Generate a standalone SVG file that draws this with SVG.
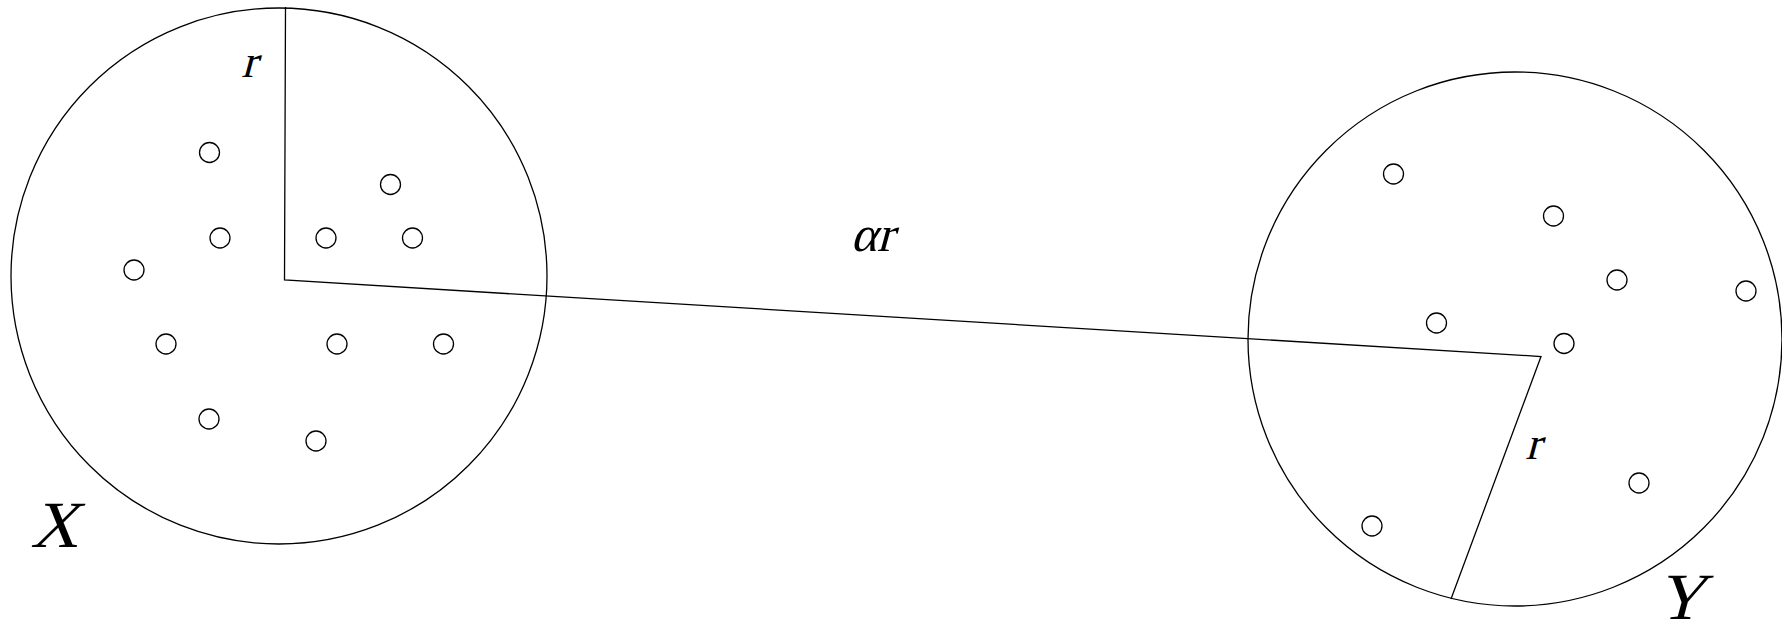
<svg xmlns="http://www.w3.org/2000/svg" width="1782" height="624" viewBox="0 0 1782 624">
<style>
.big{fill:none;stroke:#000;stroke-width:1.3}
.pt{fill:none;stroke:#000;stroke-width:1.3}
.ln{fill:none;stroke:#000;stroke-width:1.3}
.lbl{fill:#000;font-family:"Liberation Serif","DejaVu Serif",serif;font-style:normal}
</style>
<rect width="1782" height="624" fill="#fff"/>
<g id="setX">
<circle class="big" cx="279" cy="276" r="268"/>
<circle class="pt" cx="209.5" cy="152.5" r="10"/>
<circle class="pt" cx="390.5" cy="184.5" r="10"/>
<circle class="pt" cx="220" cy="238" r="10"/>
<circle class="pt" cx="326" cy="238" r="10"/>
<circle class="pt" cx="412.5" cy="238" r="10"/>
<circle class="pt" cx="134" cy="270" r="10"/>
<circle class="pt" cx="166" cy="344" r="10"/>
<circle class="pt" cx="337" cy="344" r="10"/>
<circle class="pt" cx="443.5" cy="344" r="10"/>
<circle class="pt" cx="209" cy="419" r="10"/>
<circle class="pt" cx="316" cy="441" r="10"/>
<text class="lbl" transform="translate(249,77) skewX(-15)" font-size="46" text-anchor="middle">r</text>
<text class="lbl" transform="translate(54,547) skewX(-15)" font-size="66" text-anchor="middle">X</text>
</g>
<g id="setY">
<circle class="big" cx="1515" cy="339" r="267"/>
<circle class="pt" cx="1393.5" cy="174" r="10"/>
<circle class="pt" cx="1553.5" cy="216" r="10"/>
<circle class="pt" cx="1617" cy="280" r="10"/>
<circle class="pt" cx="1746" cy="291" r="10"/>
<circle class="pt" cx="1436.5" cy="323" r="10"/>
<circle class="pt" cx="1564" cy="343.5" r="10"/>
<circle class="pt" cx="1639" cy="483" r="10"/>
<circle class="pt" cx="1372" cy="526" r="10"/>
<text class="lbl" transform="translate(1533,459) skewX(-15)" font-size="46" text-anchor="middle">r</text>
<text class="lbl" transform="translate(1680,619) skewX(-15)" font-size="66" text-anchor="middle">Y</text>
</g>
<g id="connectors">
<polyline class="ln" points="285.5,7 284.5,280 1541,356.5 1451,599"/>
<text class="lbl" transform="translate(872,251) skewX(-15)" font-size="50" text-anchor="middle">αr</text>
</g>
</svg>
